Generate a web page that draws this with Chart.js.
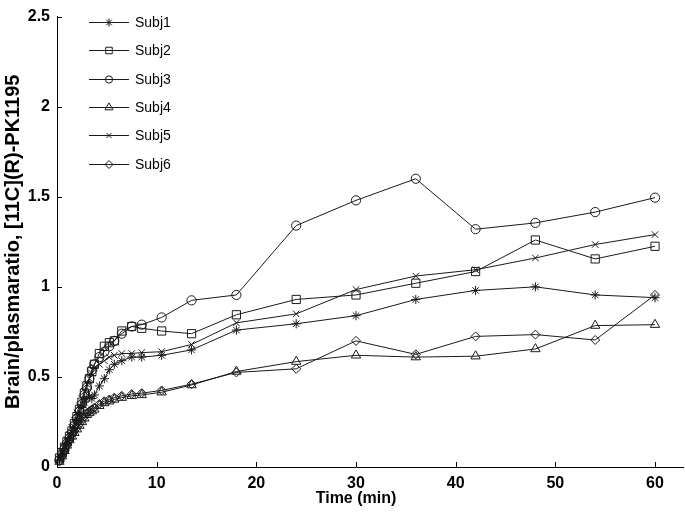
<!DOCTYPE html>
<html><head><meta charset="utf-8">
<script src="https://cdn.jsdelivr.net/npm/chart.js@4/dist/chart.umd.min.js"></script>
<style>html,body{margin:0;padding:0;background:#fff;}#wrap{width:685px;height:520px;}</style>
</head><body><div id="wrap"><canvas id="c" width="685" height="520"></canvas></div>
<script>
const times = [0.25,0.5,0.75,1,1.25,1.5,1.75,2,2.25,2.5,2.75,3,3.25,3.5,3.75,4.25,4.75,5.25,5.75,6.5,7.5,8.5,10.5,13.5,18,24,30,36,42,48,54,60];
const subj1 = [0.04,0.07,0.10,0.13,0.16,0.19,0.22,0.26,0.29,0.33,0.36,0.38,0.39,0.38,0.40,0.45,0.49,0.54,0.57,0.59,0.61,0.61,0.62,0.65,0.76,0.795,0.84,0.93,0.98,1.0,0.955,0.94];
const subj2 = [0.05,0.08,0.11,0.14,0.17,0.20,0.24,0.28,0.32,0.36,0.41,0.45,0.49,0.53,0.57,0.63,0.67,0.69,0.70,0.755,0.78,0.77,0.755,0.74,0.845,0.93,0.955,1.02,1.085,1.26,1.155,1.225];
const subj3 = [0.04,0.07,0.10,0.13,0.16,0.19,0.23,0.27,0.31,0.35,0.40,0.44,0.49,0.54,0.57,0.61,0.64,0.67,0.70,0.74,0.78,0.79,0.83,0.925,0.955,1.34,1.48,1.60,1.32,1.355,1.415,1.495];
const subj4 = [0.03,0.06,0.09,0.12,0.15,0.17,0.19,0.21,0.23,0.25,0.27,0.29,0.30,0.31,0.32,0.34,0.355,0.365,0.375,0.385,0.395,0.40,0.415,0.455,0.53,0.585,0.62,0.61,0.615,0.655,0.785,0.79];
const subj5 = [0.04,0.08,0.11,0.15,0.18,0.22,0.26,0.30,0.34,0.38,0.42,0.46,0.49,0.52,0.55,0.57,0.59,0.61,0.62,0.63,0.63,0.635,0.64,0.68,0.80,0.85,0.985,1.06,1.095,1.16,1.235,1.29];
const subj6 = [0.03,0.06,0.09,0.12,0.15,0.18,0.20,0.22,0.24,0.26,0.28,0.30,0.31,0.32,0.33,0.35,0.365,0.375,0.385,0.395,0.405,0.41,0.425,0.46,0.525,0.545,0.70,0.625,0.725,0.735,0.705,0.955];
const seriesLabels = ['Subj1','Subj2','Subj3','Subj4','Subj5','Subj6'];
const xTickValues = [0,10,20,30,40,50,60];
const yTickValues = [0,0.5,1,1.5,2,2.5];
const xTitle = 'Time (min)';
const yTitle = 'Brain/plasmaratio, [11C](R)-PK1195';

const seriesValues = [subj1, subj2, subj3, subj4, subj5, subj6];
const markerStyles = [
  {ps:'star', r:4.6, lr:4},
  {ps:'rect', r:5.8, lr:4.6},
  {ps:'circle', r:4.6, lr:3.6},
  {ps:'triangle', r:5.4, lr:4.6},
  {ps:'crossRot', r:4.6, lr:3.6},
  {ps:'rectRot', r:4.5, lr:4}
];
const SANS = "'Liberation Sans',Arial,sans-serif";
const INK = '#1a1a1a';

const datasets = seriesValues.map((vals, i) => ({
  label: seriesLabels[i],
  data: times.map((t, j) => ({x: t, y: vals[j]})),
  borderColor: INK,
  borderWidth: 1,
  pointStyle: markerStyles[i].ps,
  pointRadius: markerStyles[i].r,
  pointBorderColor: INK,
  pointBackgroundColor: 'rgba(0,0,0,0)',
  pointBorderWidth: 1,
  tension: 0,
  clip: false
}));

const decor = {
  id: 'decor',
  afterDraw(chart) {
    const {ctx, chartArea: a, scales: {x, y}} = chart;
    ctx.save();
    ctx.strokeStyle = '#000';
    ctx.lineWidth = 1;
    ctx.beginPath();
    const by = Math.round(a.bottom) + 0.5;
    ctx.moveTo(a.right, by); ctx.lineTo(684, by);
    xTickValues.forEach(v => { const px = Math.round(x.getPixelForValue(v)) + 0.5; ctx.moveTo(px, a.bottom); ctx.lineTo(px, a.bottom - 5); });
    yTickValues.forEach(v => { const py = Math.round(y.getPixelForValue(v)) + 0.5; ctx.moveTo(a.left, py); ctx.lineTo(a.left + 5, py); });
    ctx.stroke();
    // legend
    const lx0 = 89, lx1 = 129, mx = 109, tx = 135, y0 = 22, dy = 28.3;
    ctx.font = '14px ' + SANS;
    ctx.textBaseline = 'middle';
    ctx.textAlign = 'left';
    seriesLabels.forEach((lab, i) => {
      const yy = Math.round(y0 + i * dy) + 0.5;
      ctx.strokeStyle = INK; ctx.lineWidth = 1;
      ctx.beginPath(); ctx.moveTo(lx0, yy); ctx.lineTo(lx1, yy); ctx.stroke();
      ctx.fillStyle = 'rgba(0,0,0,0)';
      Chart.helpers.drawPoint(ctx, {pointStyle: markerStyles[i].ps, radius: markerStyles[i].lr, rotation: 0, borderWidth: 1}, mx, yy);
      ctx.fillStyle = '#000';
      ctx.fillText(lab, tx, yy + 1);
    });
    ctx.restore();
  }
};

new Chart(document.getElementById('c'), {
  type: 'line',
  data: {datasets},
  plugins: [decor],
  options: {
    responsive: false,
    animation: false,
    devicePixelRatio: 1,
    layout: {padding: {left: 0, right: 30, top: 9, bottom: 0}},
    plugins: {legend: {display: false}, tooltip: {enabled: false}},
    scales: {
      x: {
        type: 'linear', min: 0, max: 60,
        afterBuildTicks: s => { s.ticks = xTickValues.map(v => ({value: v})); },
        afterFit: s => { s.height = 53; },
        grid: {display: false, drawTicks: false},
        border: {display: true, color: '#000', width: 1},
        ticks: {color: '#000', padding: 7, font: {family: SANS, size: 16, weight: 'bold'}, maxRotation: 0, callback: v => String(v)},
        title: {display: true, text: xTitle, color: '#000', font: {family: SANS, size: 16, weight: 'bold'}, padding: {top: 12, bottom: 12}}
      },
      y: {
        type: 'linear', min: 0, max: 2.5,
        afterBuildTicks: s => { s.ticks = yTickValues.map(v => ({value: v})); },
        afterFit: s => { s.width = 57; },
        grid: {display: false, drawTicks: false},
        border: {display: true, color: '#000', width: 1},
        ticks: {color: '#000', padding: 7, font: {family: SANS, size: 16, weight: 'bold'}, callback: v => String(v)},
        title: {display: true, text: yTitle, color: '#000', font: {family: SANS, size: 20, weight: 'bold'}, padding: {top: 1, bottom: 1}}
      }
    }
  }
});
</script>
</body></html>
